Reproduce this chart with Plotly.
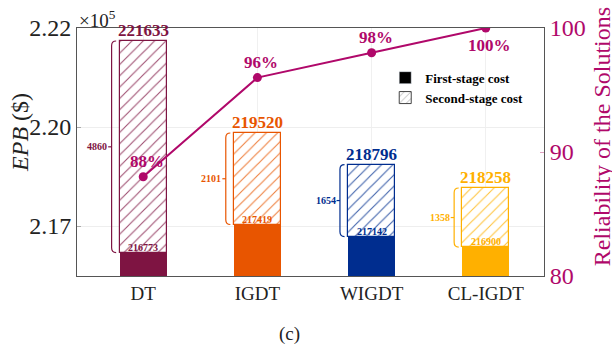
import plotly.graph_objects as go

# Data
methods = ["DT", "IGDT", "WIGDT", "CL-IGDT"]
first_stage = [216773, 217419, 217142, 216900]
total_cost = [221633, 219520, 218796, 218258]
reliability = [88, 96, 98, 100]
bar_colors = ["#7E1442", "#E85500", "#002D8F", "#FFB000"]
line_color = "#B0086A"
y_ticks = [217385, 219658, 221931]

second_stage = [t - f for t, f in zip(total_cost, first_stage)]
xs = list(range(len(methods)))
FONT = "Liberation Serif"
BW = 0.41
CURL = 110  # bracket end curl height, in cost units

fig = go.Figure()

# first-stage (solid) bars
fig.add_trace(go.Bar(
    x=xs, y=first_stage, width=BW, marker=dict(color=bar_colors, line=dict(width=0)),
    showlegend=False, hoverinfo="skip"))

# second-stage (hatched) bars stacked on top of first stage
fig.add_trace(go.Bar(
    x=xs, y=second_stage, base=first_stage, width=BW,
    marker=dict(color="white", line=dict(color=bar_colors, width=1.2),
                pattern=dict(shape="/", fgcolor=bar_colors, bgcolor="white",
                             size=8, solidity=0.14, fgopacity=0.75)),
    showlegend=False, hoverinfo="skip"))

# legend entries
fig.add_trace(go.Bar(x=[None], y=[None], name="<b>First-stage cost</b>",
                     marker=dict(color="black")))
fig.add_trace(go.Bar(x=[None], y=[None], name="<b>Second-stage cost</b>",
                     marker=dict(color="white", line=dict(color="#444", width=1),
                                 pattern=dict(shape="/", fgcolor="#444", bgcolor="white",
                                              size=6, solidity=0.15))))

# reliability line on secondary axis
fig.add_trace(go.Scatter(
    x=xs, y=reliability, yaxis="y2", mode="lines+markers",
    line=dict(color=line_color, width=2), marker=dict(size=9, color=line_color),
    showlegend=False, hoverinfo="skip"))

# value labels, brackets
for i, (f, t, s, c) in enumerate(zip(first_stage, total_cost, second_stage, bar_colors)):
    fig.add_annotation(x=i, y=t, text=f"<b>{t}</b>", showarrow=False, yanchor="bottom",
                       yshift=-1, font=dict(family=FONT, size=17, color=c))
    fig.add_annotation(x=i, y=f, text=f"<b>{f}</b>", showarrow=False, yanchor="bottom",
                       yshift=-2, font=dict(family=FONT, size=10, color=c))
    xl = i - BW / 2 - 0.072
    xr = xl + 0.04
    path = (f"M {xr},{t} Q {xl},{t} {xl},{t - CURL} L {xl},{f + CURL} "
            f"Q {xl},{f} {xr},{f}")
    fig.add_shape(type="path", path=path, xref="x", yref="y",
                  line=dict(color=c, width=1.2))
    mid = (t + f) / 2
    fig.add_shape(type="line", x0=xl - 0.03, x1=xl, y0=mid, y1=mid, xref="x", yref="y",
                  line=dict(color=c, width=1.2))
    fig.add_annotation(x=xl - 0.03, y=mid, text=f"<b>{s}</b>", showarrow=False,
                       xanchor="right", xshift=1, font=dict(family=FONT, size=10, color=c))

for i, r in enumerate(reliability):
    below = r >= 100
    fig.add_annotation(x=i, y=r, yref="y2", text=f"<b>{r}%</b>", showarrow=False,
                       xshift=4, yanchor="top" if below else "bottom",
                       yshift=-6 if below else 4,
                       font=dict(family=FONT, size=17, color=line_color))

# multiplier, axis titles and panel label
fig.add_annotation(xref="paper", yref="paper", x=0.0, y=1.0, xanchor="left",
                   yanchor="bottom", yshift=-5, text="×10<sup>5</sup>", showarrow=False,
                   font=dict(family=FONT, size=19, color="#222"))
fig.add_annotation(xref="paper", yref="paper", x=0.455, y=-0.235, yanchor="middle",
                   text="(c)", showarrow=False, font=dict(family=FONT, size=19, color="#222"))
fig.add_annotation(xref="paper", yref="paper", x=0.0, xshift=-57, xanchor="center",
                   y=0.577, yanchor="middle", text="<i>EPB</i> ($)", textangle=-90,
                   showarrow=False, font=dict(family=FONT, size=24, color="#222"))
fig.add_annotation(xref="paper", yref="paper", x=1.0, xshift=58, xanchor="center",
                   y=0.62, yanchor="middle",
                   text="Reliability of the Solutions (-)", textangle=-90, showarrow=False,
                   font=dict(family=FONT, size=24, color=line_color))

fig.update_layout(
    width=612, height=351, margin=dict(l=77, r=68, t=28, b=75),
    plot_bgcolor="white", paper_bgcolor="white", barmode="overlay",
    font=dict(family=FONT, color="#222"),
    xaxis=dict(range=[-0.58, 3.51], tickvals=xs, ticktext=methods,
               tickfont=dict(family=FONT, size=19, color="#222"), showgrid=True,
               gridcolor="#F0F0F0", showline=True, linecolor="#555", mirror=True,
               ticks="", zeroline=False),
    yaxis=dict(range=[216237, 221931], tickvals=y_ticks,
               ticktext=[f"{v / 1e5:.2f}" for v in y_ticks],
               tickfont=dict(family=FONT, size=24, color="#222"), showgrid=True,
               gridcolor="#EEEEEE", showline=True, linecolor="#555", ticks="inside",
               ticklen=4, tickcolor="#aaa", zeroline=False),
    yaxis2=dict(range=[80, 100], overlaying="y", side="right", tickvals=[80, 90, 100],
                tickfont=dict(family=FONT, size=24, color=line_color), showgrid=False,
                showline=True, linecolor="#555", ticks="inside", ticklen=4,
                tickcolor="#E0A0C0", zeroline=False),
    legend=dict(x=0.66, y=0.86, xanchor="left", yanchor="top", bgcolor="rgba(0,0,0,0)",
                font=dict(family=FONT, size=13, color="black"), tracegroupgap=0,
                itemwidth=30),
    bargap=0,
)

fig.write_html("out.html")
